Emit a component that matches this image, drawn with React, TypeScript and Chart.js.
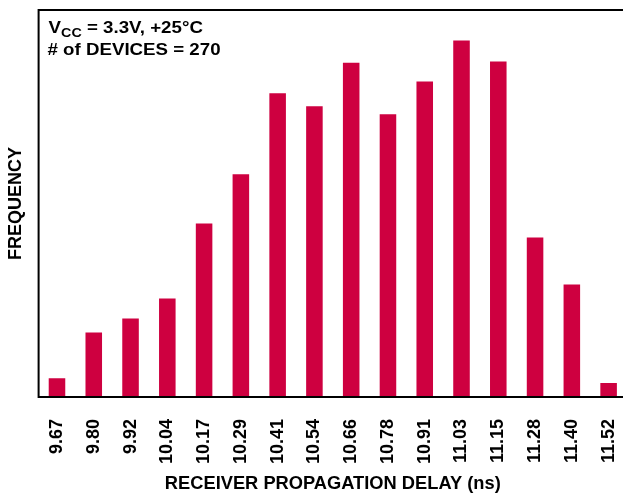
import React, { useEffect, useRef } from "react";
import { Chart, registerables } from "chart.js";

Chart.register(...registerables);

const categories = ["9.67", "9.80", "9.92", "10.04", "10.17", "10.29", "10.41", "10.54", "10.66", "10.78", "10.91", "11.03", "11.15", "11.28", "11.40", "11.52"];
const frequency = [1.6, 5.5, 6.7, 8.4, 14.8, 19.0, 25.9, 24.8, 28.5, 24.1, 26.9, 30.4, 28.6, 13.6, 9.6, 1.2];
const yMax = 33;
const annotationLine1 = ["V", "CC", " = 3.3V, +25°C"];
const annotationLine2 = "# of DEVICES = 270";
const xTitle = "RECEIVER PROPAGATION DELAY (ns)";
const yTitle = "FREQUENCY";

const FONT = "'Liberation Sans', Arial, Helvetica, sans-serif";
const BAR = "#CE0040";

const framePlugin = {
  id: "frame",
  afterDatasetsDraw(chart: any) {
    const { ctx, chartArea } = chart;
    ctx.save();
    ctx.strokeStyle = "#000";
    ctx.lineWidth = 2;
    ctx.strokeRect(chartArea.left, chartArea.top, chartArea.right - chartArea.left, chartArea.bottom - chartArea.top);
    // annotation (slightly wide lettering)
    ctx.fillStyle = "#000";
    ctx.textBaseline = "alphabetic";
    ctx.textAlign = "left";
    const sx = 1.1;
    ctx.translate(chartArea.left + 10, chartArea.top);
    ctx.scale(sx, 1);
    let x = 0;
    const y1 = 23;
    ctx.font = `bold 17px ${FONT}`;
    ctx.fillText(annotationLine1[0], x, y1);
    x += ctx.measureText(annotationLine1[0]).width;
    ctx.font = `bold 13px ${FONT}`;
    ctx.fillText(annotationLine1[1], x, y1 + 4);
    x += ctx.measureText(annotationLine1[1]).width;
    ctx.font = `bold 17px ${FONT}`;
    ctx.fillText(annotationLine1[2], x, y1);
    ctx.fillText(annotationLine2, -1, 45);
    ctx.restore();
  },
};

export default function App() {
  const ref = useRef<HTMLCanvasElement>(null);
  useEffect(() => {
    const chart = new Chart(ref.current!, {
      type: "bar",
      data: {
        labels: categories,
        datasets: [
          {
            data: frequency,
            backgroundColor: BAR,
            borderWidth: 0,
            barPercentage: 0.45,
            categoryPercentage: 1,
          },
        ],
      },
      options: {
        animation: false,
        responsive: false,
        maintainAspectRatio: false,
        layout: { padding: { top: 10, left: 0, right: 0, bottom: 0 } },
        plugins: { legend: { display: false }, tooltip: { enabled: false } },
        scales: {
          x: {
            grid: { display: false, drawTicks: false },
            border: { display: false },
            ticks: {
              minRotation: 90,
              maxRotation: 90,
              autoSkip: false,
              padding: 22,
              color: "#000",
              font: { family: FONT, size: 18, weight: "bold" },
            },
            title: {
              display: true,
              text: xTitle,
              color: "#000",
              padding: { top: 0, bottom: 0 },
              font: { family: FONT, size: 18.3, weight: "bold" },
            },
            afterFit(scale: any) {
              scale.height = 98;
              scale.paddingLeft = 0;
              scale.paddingRight = 0;
            },
          },
          y: {
            min: 0,
            max: yMax,
            grid: { display: false, drawTicks: false },
            border: { display: false },
            ticks: { display: false },
            title: {
              display: true,
              text: yTitle,
              color: "#000",
              padding: { top: 5, bottom: 0 },
              font: { family: FONT, size: 18, weight: "bold" },
            },
            afterFit(scale: any) {
              scale.width = 38.6;
              scale.paddingTop = 0;
              scale.paddingBottom = 0;
            },
          },
        },
      },
      plugins: [framePlugin],
    });
    return () => chart.destroy();
  }, []);
  return (
    <div style={{ position: "absolute", left: 0, top: 0, width: 623, height: 495, overflow: "hidden", background: "#fff" }}>
      <canvas ref={ref} width={627} height={495} style={{ display: "block" }} />
    </div>
  );
}
